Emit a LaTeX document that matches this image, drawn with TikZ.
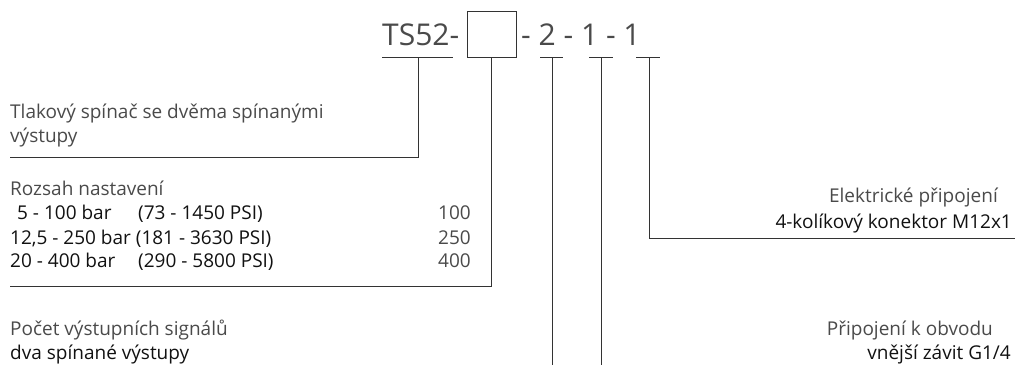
\documentclass[tikz,border=0pt]{standalone}
\usepackage{fontspec}
\setmainfont{Open Sans}
\usepackage{tikz}

\definecolor{headgray}{HTML}{4A4A4A}
\definecolor{valblack}{HTML}{111111}
\definecolor{linegray}{HTML}{333333}

\tikzset{
	label/.style={inner sep=0pt,font=\fontsize{19}{22}\selectfont},
	head/.style={label,text=headgray},
	val/.style={label,text=valblack},
	title/.style={inner sep=0pt,text=headgray,font=\fontsize{30}{36}\selectfont},
	codebox/.style={draw=linegray,line width=1pt,minimum width=49pt,minimum height=46pt,inner sep=0pt},
	leader/.style={draw=linegray,line width=1pt}
}

\begin{document}
\begin{tikzpicture}[x=1pt,y=-1pt]
	\useasboundingbox (0,0) rectangle (1016,365);
	
	%type code
	\node[title,anchor=base west] (ts)   at (382,45)   {TS52-};
	\node[codebox]                (box)  at (491.5,34) {};
	\node[title,anchor=base west] (rest) at (521,45)   {- 2 - 1 - 1};
	
	%tick marks
	\coordinate (ts0) at (382,57);  \coordinate (ts1) at (453,57);  \coordinate (tsm) at (418,57);
	\coordinate (a0)  at (540,57);  \coordinate (a1)  at (563,57);  \coordinate (am)  at (552,57);
	\coordinate (b0)  at (589,57);  \coordinate (b1)  at (613,57);  \coordinate (bm)  at (601,57);
	\coordinate (c0)  at (636,57);  \coordinate (c1)  at (660,57);  \coordinate (cm)  at (649,57);
	
	%left labels
	\node[head,anchor=base west] (sw1)  at (10,118)  {Tlakový spínač se dvěma spínanými};
	\node[head,anchor=base west] (sw2)  at (10,142)  {výstupy};
	\node[head,anchor=base west] (rng)  at (10,195)  {Rozsah nastavení};
	\node[val,anchor=base west]  (r1a)  at (17,219)  {5 - 100 bar};
	\node[val,anchor=base west]  (r1b)  at (138,219) {(73 - 1450 PSI)};
	\node[val,anchor=base west]  (r2)   at (10,244)  {12,5 - 250 bar (181 - 3630 PSI)};
	\node[val,anchor=base west]  (r3a)  at (10,267)  {20 - 400 bar};
	\node[val,anchor=base west]  (r3b)  at (138,267) {(290 - 5800 PSI)};
	\node[head,anchor=base east] (n1)   at (471,219) {100};
	\node[head,anchor=base east] (n2)   at (471,244) {250};
	\node[head,anchor=base east] (n3)   at (471,267) {400};
	\node[head,anchor=base west] (cnt)  at (10,335)  {Počet výstupních signálů};
	\node[val,anchor=base west]  (cntv) at (10,359)  {dva spínané výstupy};
	
	%right labels
	\node[head,anchor=base east] (el)   at (998,202)  {Elektrické připojení};
	\node[val,anchor=base east]  (elv)  at (1012,228) {4-kolíkový konektor M12x1};
	\node[head,anchor=base east] (pr)   at (993,335)  {Připojení k obvodu};
	\node[val,anchor=base east]  (prv)  at (1011,359) {vnější závit G1/4};
	
	%ends of leaders
	\coordinate (swend)  at (10,157);
	\coordinate (rngend) at (10,286);
	\coordinate (elend)  at (1015,238);
	\coordinate (abot)   at (552,365);
	\coordinate (bbot)   at (601,365);
	
	%leaders
	\draw[leader] (ts0) -- (ts1);
	\draw[leader] (tsm) |- (swend);
	\draw[leader] (box.south) |- (rngend);
	\draw[leader] (a0) -- (a1);
	\draw[leader] (am) -- (abot);
	\draw[leader] (b0) -- (b1);
	\draw[leader] (bm) -- (bbot);
	\draw[leader] (c0) -- (c1);
	\draw[leader] (cm) |- (elend);
\end{tikzpicture}
\end{document}
